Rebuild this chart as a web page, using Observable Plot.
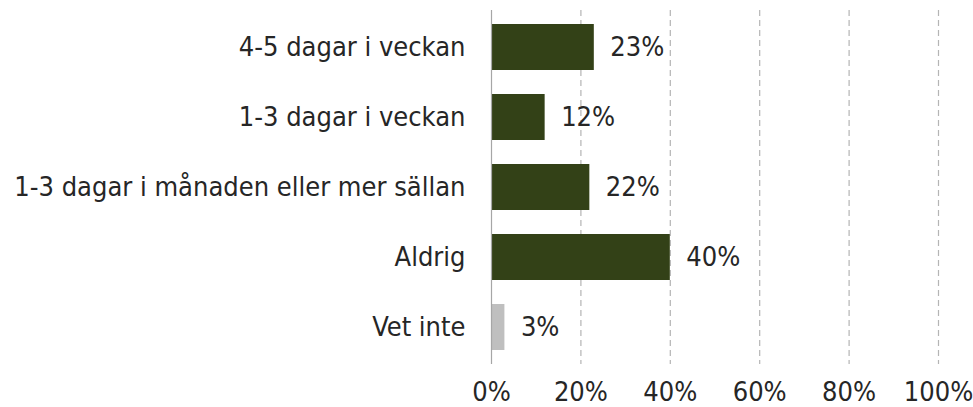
<!DOCTYPE html>
<html><head><meta charset="utf-8">
<script src="https://cdn.jsdelivr.net/npm/d3@7"></script>
<script src="https://cdn.jsdelivr.net/npm/@observablehq/plot@0.6"></script>
<style>body{margin:0;background:#fff;} svg{display:block;}</style>
</head><body><div id="chart"></div>
<script>
const categories = ["4-5 dagar i veckan","1-3 dagar i veckan","1-3 dagar i månaden eller mer sällan","Aldrig","Vet inte"];
const values = [0.23,0.12,0.22,0.40,0.03];
const valueLabels = ["23%","12%","22%","40%","3%"];
const barColors = ["#334117","#334117","#334117","#334117","#bfbfbf"];
const ticks = [0,0.2,0.4,0.6,0.8,1];
const tickLabels = ["0%","20%","40%","60%","80%","100%"];

const data = categories.map((c,i)=>({cat:c,v:values[i],lab:valueLabels[i],col:barColors[i]}));
const font = "DejaVu Sans Condensed, DejaVu Sans, sans-serif";
const plot = Plot.plot({
  width: 973, height: 407,
  marginLeft: 491, marginRight: 35, marginTop: 10, marginBottom: 43,
  style: {fontFamily: font, fontSize: "27px", color: "#262626", background: "#fff"},
  x: {domain: [0,1], axis: null},
  y: {domain: categories, paddingInner: 0.336, paddingOuter: 0.17, axis: null},
  marks: [
    Plot.ruleX(ticks.slice(1), {stroke: "#b4b4b4", strokeDasharray: "6,4", strokeWidth: 1.2}),
    Plot.barX(data, {x: "v", y: "cat", fill: "col"}),
    Plot.ruleX([0], {stroke: "#a6a6a6", strokeWidth: 1.2}),
    Plot.text(data, {x: "v", y: "cat", text: "lab", textAnchor: "start", dx: 16, fill: "#262626", fontSize: 27}),
    Plot.text(data, {x: 0, y: "cat", text: "cat", textAnchor: "end", dx: -26, fill: "#262626", fontSize: 27}),
    Plot.axisX({ticks: ticks, tickFormat: (d,i)=>tickLabels[i], tickSize: 0, tickPadding: 17, fontSize: 27, fill: "#262626", label: null})
  ]
});
document.getElementById("chart").append(plot);
</script></body></html>
